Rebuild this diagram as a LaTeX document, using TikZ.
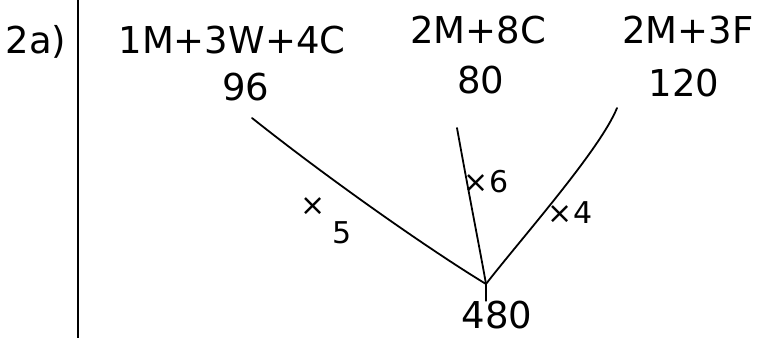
\documentclass[tikz,border=0pt]{standalone}
\usepackage{fontspec}
\setmainfont{DejaVu Sans}
\begin{document}
\begin{tikzpicture}[x=1pt,y=-1pt,
  hw/.style={font=\fontsize{37}{42}\selectfont, inner sep=0pt, text=black},
  sm/.style={font=\fontsize{30}{34}\selectfont, inner sep=0pt, text=black},
  ln/.style={line width=1.8pt, line cap=round}]
\useasboundingbox (0,0) rectangle (771,338);
\fill[white] (0,0) rectangle (771,338);
% margin line
\coordinate (mtop) at (78,0);
\coordinate (mbot) at (78,338);
\draw[line width=1.2pt] (mtop) -- (mbot);
% labels
\node[hw] (q) at (36,42) {2a)};
\node[hw] (t1) at (232,40) {1M+3W+4C};
\node[hw] (v1) at (246,87) {96};
\node[hw] (t2) at (478,30) {2M+8C};
\node[hw] (v2) at (481,80) {80};
\node[hw] (t3) at (688,30) {2M+3F};
\node[hw] (v3) at (684,83) {120};
\node[hw] (n480) at (497,315) {480};
% connector endpoints
\coordinate (a1) at (252,118);
\coordinate (a2) at (457,128);
\coordinate (a3) at (617,108);
\coordinate (m) at (486,284);
\draw[ln] (a1) .. controls (330,180) and (430,250) .. (m);
\draw[ln] (a2) .. controls (470,200) and (480,250) .. (m);
\draw[ln] (a3) .. controls (600,150) and (520,240) .. (m);
\draw[ln] (m) -- (n480.north -| m);
% multipliers
\node[sm] (x5) at (313,207) {×};
\node[sm] (f5) at (342,233) {5};
\node[sm] (x6) at (486,182) {×6};
\node[sm] (x4) at (570,213) {×4};
\end{tikzpicture}
\end{document}
